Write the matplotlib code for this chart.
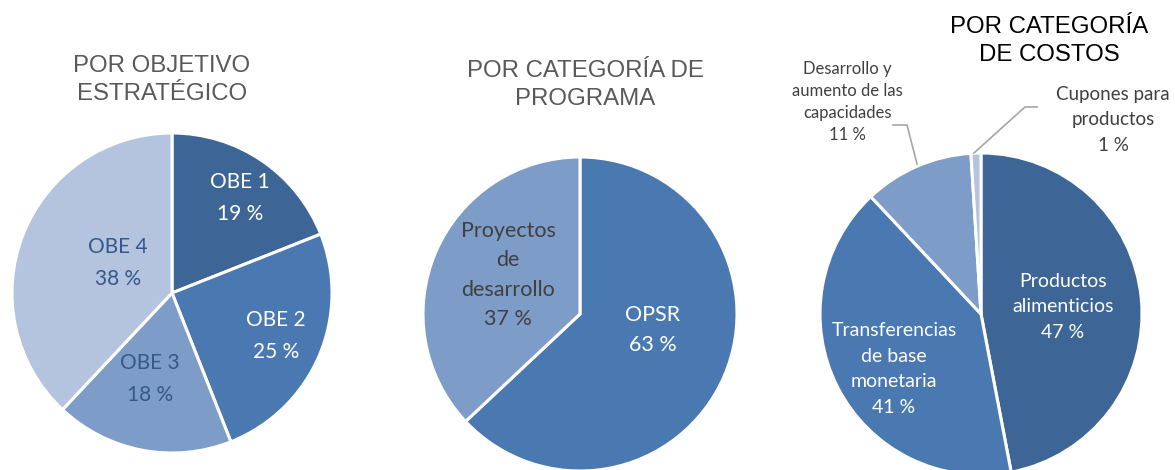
import matplotlib
matplotlib.use("Agg")
import matplotlib.pyplot as plt
from matplotlib.lines import Line2D

# ---------------- data ----------------
obj_labels = ["OBE 1", "OBE 2", "OBE 3", "OBE 4"]
obj_values = [19, 25, 18, 38]

prog_labels = ["OPSR", "Proyectos\nde\ndesarrollo"]
prog_values = [63, 37]

cost_labels = ["Productos\nalimenticios", "Transferencias\nde base\nmonetaria",
               "Desarrollo y\naumento de las\ncapacidades", "Cupones para\nproductos"]
cost_values = [47, 41, 11, 1]

titles = ["POR OBJETIVO\nESTRATÉGICO", "POR CATEGORÍA DE\nPROGRAMA", "POR CATEGORÍA\nDE COSTOS"]

# ---------------- style ----------------
C1, C2, C3, C4 = "#3D6596", "#4A78B0", "#7E9CC8", "#B4C4DE"
obj_colors = [C1, C2, C3, C4]
prog_colors = [C2, C3]
cost_colors = [C1, C2, C3, C4]

W, H = 1175, 470
fig = plt.figure(figsize=(W / 100, H / 100), dpi=100)
fig.patch.set_facecolor("white")

LABEL_FONT = ["Lato", "DejaVu Sans"]
TITLE_FONT = ["Liberation Sans", "DejaVu Sans"]


def add_pie(cx, cy, r, values, colors):
    ax = fig.add_axes([(cx - r) / W, (H - cy - r) / H, 2 * r / W, 2 * r / H])
    ax.pie(values, colors=colors, startangle=90, counterclock=False, radius=1,
           wedgeprops=dict(edgecolor="white", linewidth=2.2))
    ax.set_xlim(-1, 1)
    ax.set_ylim(-1, 1)
    ax.set_aspect("equal")
    ax.axis("off")
    return ax


def ftext(px, py, s, size, color, family=LABEL_FONT, ls=1.25):
    fig.text(px / W, 1 - py / H, s, ha="center", va="center", fontsize=size,
             color=color, family=family, linespacing=ls, multialignment="center")


def pct(v):
    return f"{v} %"


# pie 1
add_pie(172, 293, 160, obj_values, obj_colors)
obj_pos = [(240, 198), (276, 336), (150, 379), (118, 263)]
obj_tc = ["white", "white", "#34598A", "#34598A"]
for lab, v, (px, py), tc in zip(obj_labels, obj_values, obj_pos, obj_tc):
    ftext(px, py, f"{lab}\n{pct(v)}", 15, tc, ls=1.7)

# pie 2
add_pie(580, 314, 157, prog_values, prog_colors)
prog_pos = [(653, 330), (508, 275)]
prog_tc = ["white", "#404040"]
for lab, v, (px, py), tc in zip(prog_labels, prog_values, prog_pos, prog_tc):
    ftext(px, py, f"{lab}\n{pct(v)}", 15.5, tc, ls=1.59)

# pie 3
add_pie(981, 314, 161, cost_values, cost_colors)
cost_pos = [(1063, 307), (894, 369), (847, 102), (1113, 120)]
cost_tc = ["white", "white", "#404040", "#404040"]
cost_size = [14, 14, 12, 13.5]
cost_ls = [1.6, 1.6, 1.47, 1.62]
for lab, v, (px, py), tc, fs, ls in zip(cost_labels, cost_values, cost_pos, cost_tc, cost_size, cost_ls):
    ftext(px, py, f"{lab}\n{pct(v)}", fs, tc, ls=ls)

# leader lines (pie 3)
lc = "#A6A6A6"
for xs, ys in [([893, 907, 917], [125, 125, 164]), ([1037, 1025, 974], [107, 107, 153])]:
    fig.add_artist(Line2D([x / W for x in xs], [1 - y / H for y in ys],
                          color=lc, linewidth=1.2, transform=fig.transFigure))

# titles
ftext(162, 80, titles[0], 17.3, "#595959", family=TITLE_FONT, ls=1.38)
ftext(585, 85, titles[1], 17.3, "#595959", family=TITLE_FONT, ls=1.38)
ftext(1049, 41, titles[2], 17.3, "black", family=TITLE_FONT, ls=1.34)

fig.savefig("out.png", dpi=100, facecolor="white")
